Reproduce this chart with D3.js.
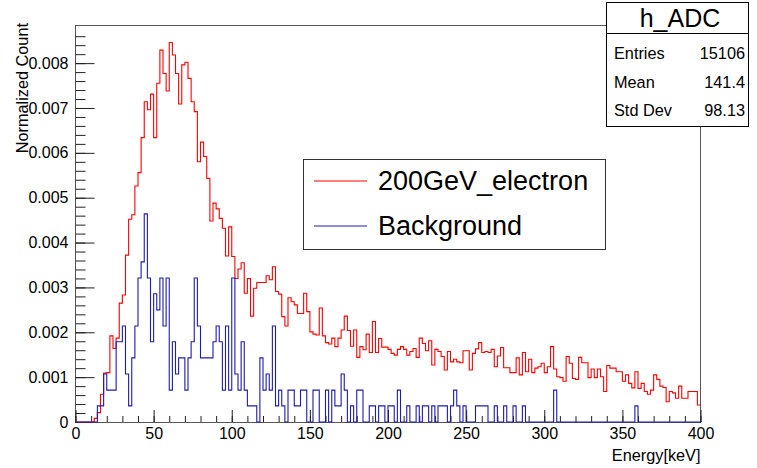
<!DOCTYPE html>
<html>
<head>
<meta charset="utf-8">
<script src="https://cdn.jsdelivr.net/npm/d3@7"></script>
<style>
  body { margin: 0; background: #fff; }
  svg { display: block; font-family: "Liberation Sans", Arial, Helvetica, sans-serif; }
</style>
</head>
<body>
<div id="container"></div>
<script>
/* DATA (2 keV bins, 0-400 keV) */
const binLow = d3.range(0, 400, 2);

const electronValues = [
  0,0,0,0,0,0,0.00008,0.00021,0.00062,0.00109,
  0.00110,0.00192,0.00164,0.00187,0.00265,0.00283,0.00372,0.00452,0.00462,0.00526,
  0.00556,0.00634,0.00714,0.00696,0.00731,0.00634,0.00755,0.00829,0.00777,0.00738,
  0.00846,0.00818,0.00777,0.00709,0.00796,0.00802,0.00766,0.00714,0.00692,0.00580,
  0.00624,0.00592,0.00543,0.00448,0.00488,0.00475,0.00454,0.00432,0.00370,0.00435,
  0.00369,0.00320,0.00341,0.00355,0.00287,0.00320,0.00236,0.00298,0.00311,0.00311,
  0.00311,0.00326,0.00317,0.00346,0.00291,0.00285,0.00235,0.00214,0.00277,0.00268,
  0.00261,0.00242,0.00242,0.00287,0.00246,0.00201,0.00196,0.00194,0.00254,0.00192,
  0.00177,0.00174,0.00187,0.00168,0.00187,0.00205,0.00236,0.00204,0.00169,0.00205,
  0.00144,0.00168,0.00161,0.00196,0.00155,0.00224,0.00155,0.00186,0.00167,0.00167,
  0.00162,0.00153,0.00149,0.00162,0.00168,0.00162,0.00149,0.00157,0.00164,0.00144,
  0.00187,0.00175,0.00159,0.00181,0.00127,0.00162,0.00157,0.00146,0.00116,0.00157,
  0.00134,0.00140,0.00134,0.00132,0.00159,0.00159,0.00116,0.00153,0.00163,0.00177,
  0.00155,0.00157,0.00155,0.00162,0.00123,0.00147,0.00166,0.00121,0.00121,0.00110,
  0.00110,0.00143,0.00105,0.00155,0.00112,0.00140,0.00110,0.00120,0.00123,0.00131,
  0.00110,0.00123,0.00168,0.00118,0.00101,0.00099,0.00091,0.00146,0.00131,0.00097,
  0.00095,0.00144,0.00132,0.00132,0.00099,0.00118,0.00099,0.00118,0.00101,0.00068,
  0.00126,0.00120,0.00120,0.00112,0.00112,0.00091,0.00105,0.00086,0.00076,0.00112,
  0.00075,0.00086,0.00068,0.00062,0.00071,0.00105,0.00095,0.00080,0.00077,0.00045,
  0.00068,0.00065,0.00053,0.00080,0.00053,0.00053,0.00068,0.00068,0.00068,0.00038
];

const backgroundValues = [
  0,0,0,0,0,0,0,0.00036,0.00036,0.00107,
  0.00071,0.00071,0.00071,0.00179,0.00179,0.00214,0.00107,0.00036,0.00143,0.00214,
  0.00321,0.00357,0.00464,0.00321,0.00179,0.00286,0.00250,0.00321,0.00214,0.00321,
  0.00071,0.00179,0.00107,0.00143,0.00143,0.00071,0.00143,0.00179,0.00321,0.00214,
  0.00143,0.00143,0.00143,0.00143,0.00179,0.00214,0.00179,0.00071,0.00214,0.00071,
  0.00321,0.00107,0.00071,0.00179,0.00071,0.00036,0.00036,0.00036,0,0.00143,
  0.00071,0.00107,0.00071,0.00214,0.00036,0.00071,0.00036,0,0.00071,0.00071,
  0.00036,0.00036,0.00071,0.00071,0,0,0.00071,0.00071,0,0,
  0.00071,0,0.00071,0.00036,0.00036,0.00107,0.00071,0,0.00036,0,
  0.00071,0.00071,0,0,0.00036,0.00036,0,0.00036,0.00036,0,
  0.00036,0.00036,0,0.00071,0,0,0.00036,0,0,0.00036,
  0,0.00036,0.00036,0,0.00036,0,0.00036,0.00036,0.00036,0,
  0.00036,0.00071,0.00036,0,0.00036,0,0,0,0.00036,0.00036,
  0.00036,0.00036,0,0,0.00036,0,0,0.00036,0,0,
  0.00036,0,0,0.00036,0,0,0,0,0,0,
  0,0,0,0.00071,0,0,0,0,0,0,
  0,0,0,0,0,0,0,0,0,0,
  0,0,0,0,0,0,0,0,0,0.00036,
  0,0,0,0,0,0,0,0,0,0,
  0,0,0,0,0,0,0,0,0,0
];

const seriesNames = ["200GeV_electron", "Background"];
const statLabels = ["Entries", "Mean", "Std Dev"];
const statValues = ["15106", "141.4", "98.13"];
const yMajorTicks = [0, 0.001, 0.002, 0.003, 0.004, 0.005, 0.006, 0.007, 0.008];
const xMajorTicks = [0, 50, 100, 150, 200, 250, 300, 350, 400];

/* LAYOUT */
const width = 757, height = 468;
const frame = { left: 75.5, right: 700.5, top: 25, bottom: 422 };
const red = "#ff0000", blue = "#1c1cb0";

const svg = d3.select("#container").append("svg")
  .attr("width", width)
  .attr("height", height);

const xScale = d3.scaleLinear().domain([0, 400]).range([frame.left, frame.right]);
const yScale = d3.scaleLinear().domain([0, 0.00885]).range([frame.bottom, frame.top]);

// frame
svg.append("rect")
  .attr("x", frame.left).attr("y", frame.top + 0.5)
  .attr("width", frame.right - frame.left).attr("height", frame.bottom - frame.top)
  .attr("fill", "none").attr("stroke", "#555").attr("stroke-width", 1);

// y axis: major + minor ticks pointing inside
svg.append("g").attr("transform", `translate(${frame.left},0)`)
  .call(d3.axisLeft(yScale).tickValues(yMajorTicks).tickSize(-19).tickPadding(7)
    .tickFormat(d => d === 0 ? "0" : d3.format(".3f")(d)));
svg.append("g").attr("transform", `translate(${frame.left},0)`)
  .call(d3.axisLeft(yScale).tickValues(d3.range(0, 0.0088, 0.0002)).tickSize(-10).tickFormat(""));

// x axis
svg.append("g").attr("transform", `translate(0,${frame.bottom})`)
  .call(d3.axisBottom(xScale).tickValues(xMajorTicks).tickSize(-12).tickPadding(6));
svg.append("g").attr("transform", `translate(0,${frame.bottom})`)
  .call(d3.axisBottom(xScale).tickValues(d3.range(0, 401, 10)).tickSize(-6).tickFormat(""));

svg.selectAll(".domain").remove();
svg.selectAll(".tick line").attr("stroke", "#222");
svg.selectAll(".tick text").attr("font-size", 16).attr("fill", "#000")
  .attr("font-family", "'Liberation Sans', Arial, sans-serif");

// axis titles
svg.append("text")
  .attr("transform", `translate(28,${frame.top - 2}) rotate(-90)`)
  .attr("text-anchor", "end")
  .attr("font-size", 16.3)
  .text("Normalized Count");

svg.append("text")
  .attr("x", frame.right).attr("y", 461)
  .attr("text-anchor", "end")
  .attr("font-size", 16.3)
  .text("Energy[keV]");

/* HISTOGRAMS */
function histPath(values) {
  const pts = binLow.map((b, i) => [b, values[i]]);
  pts.push([400, values[values.length - 1]]);
  return d3.line()
    .x(d => xScale(d[0]))
    .y(d => yScale(d[1]))
    .curve(d3.curveStepAfter)(pts);
}

svg.append("path")
  .attr("d", histPath(electronValues))
  .attr("fill", "none").attr("stroke", red).attr("stroke-width", 1.1);

svg.append("path")
  .attr("d", histPath(backgroundValues))
  .attr("fill", "none").attr("stroke", blue).attr("stroke-width", 1.1);

/* LEGEND */
const legend = svg.append("g");
legend.append("rect")
  .attr("x", 303.5).attr("y", 159.5).attr("width", 302).attr("height", 90)
  .attr("fill", "#fff").attr("stroke", "#333");
[red, blue].forEach((c, i) => {
  const cy = [181, 226][i];
  legend.append("line")
    .attr("x1", 314).attr("x2", 367).attr("y1", cy).attr("y2", cy)
    .attr("stroke", c).attr("stroke-width", 1);
  legend.append("text")
    .attr("x", 378).attr("y", cy + 9)
    .attr("font-size", 27)
    .text(seriesNames[i]);
});

/* STATS BOX */
const stats = svg.append("g");
stats.append("rect")
  .attr("x", 606.5).attr("y", 2.5).attr("width", 142).attr("height", 124)
  .attr("fill", "#fff").attr("stroke", "#000");
stats.append("line")
  .attr("x1", 606.5).attr("x2", 748.5).attr("y1", 33.5).attr("y2", 33.5)
  .attr("stroke", "#000");
stats.append("text")
  .attr("x", 680).attr("y", 27)
  .attr("text-anchor", "middle")
  .attr("font-size", 25)
  .text("h_ADC");
statLabels.forEach((s, i) => {
  const by = [59, 87.5, 116][i];
  stats.append("text").attr("x", 614).attr("y", by).attr("font-size", 16.3).text(s);
  stats.append("text").attr("x", 745).attr("y", by).attr("font-size", 16.3)
    .attr("text-anchor", "end").text(statValues[i]);
});
</script>
</body>
</html>
